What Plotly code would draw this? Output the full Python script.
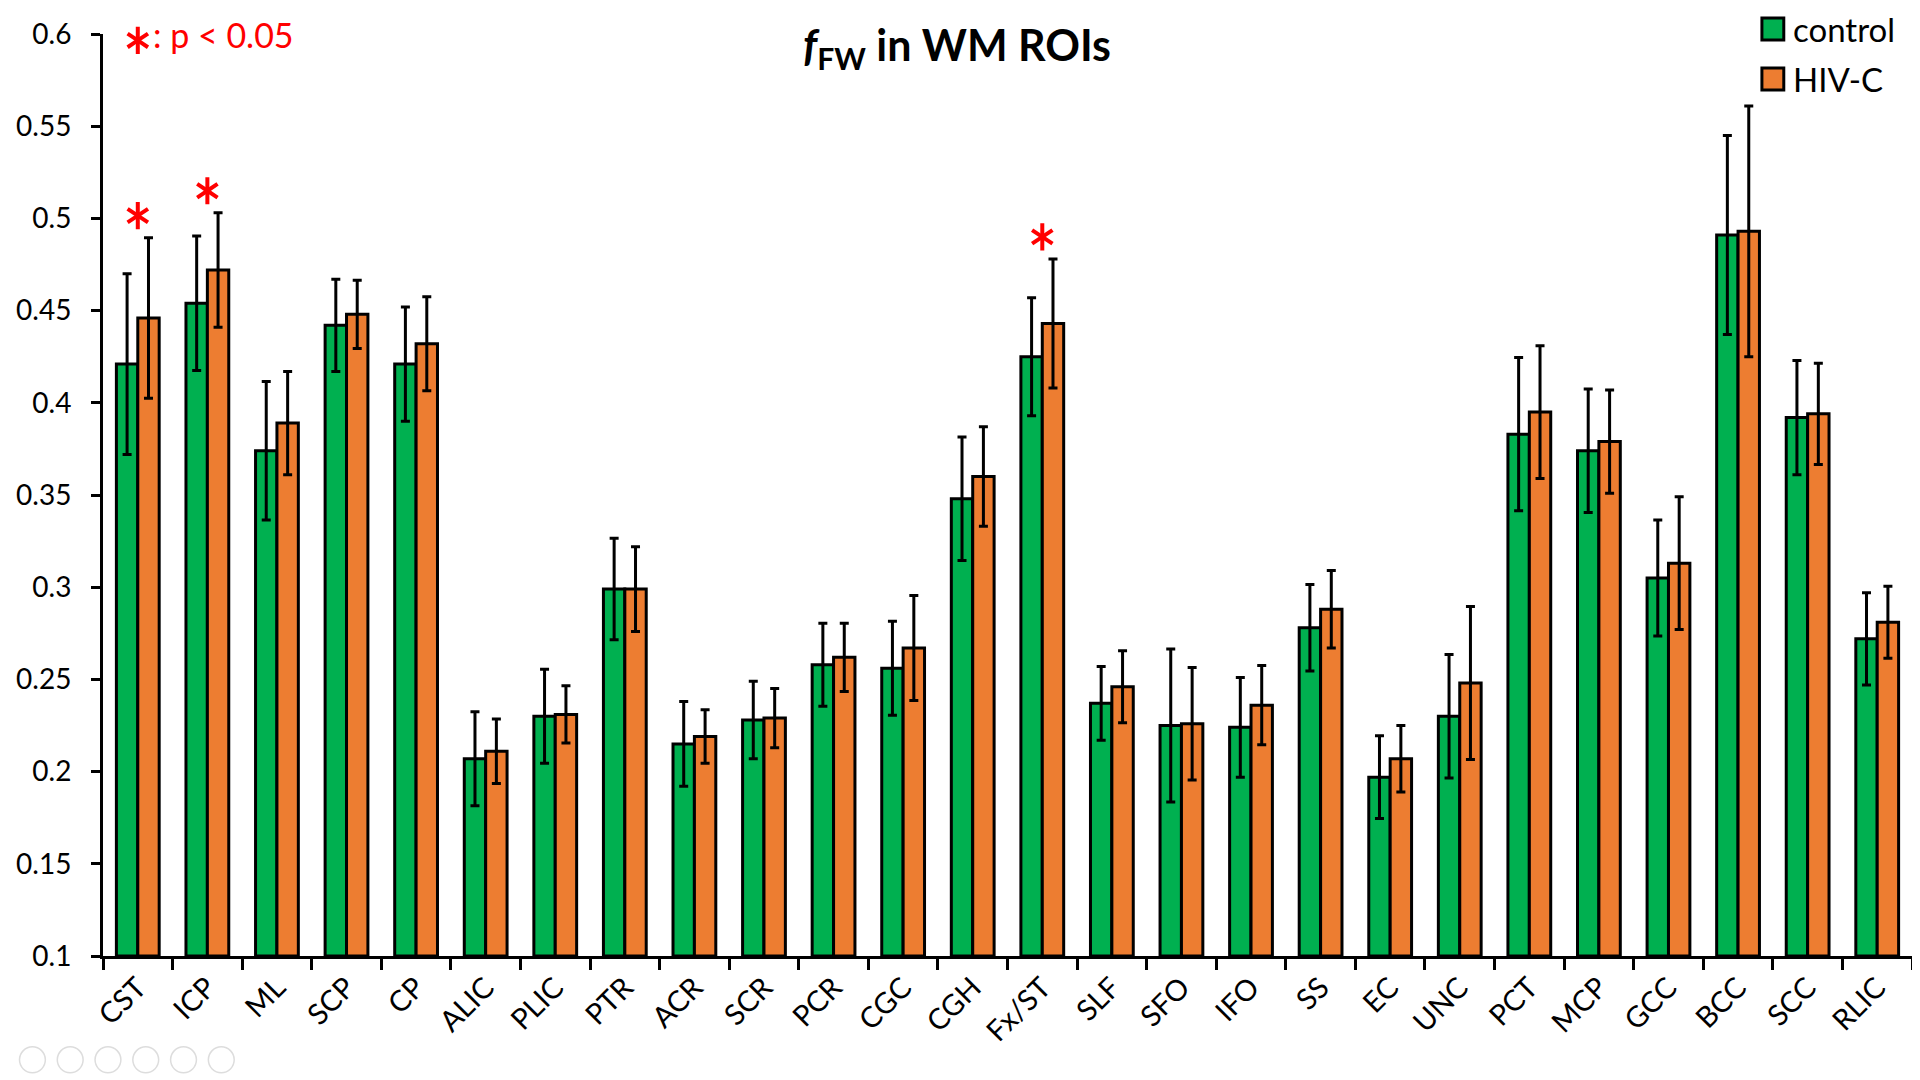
import plotly.graph_objects as go

# ---------------- data ----------------
categories = ["CST", "ICP", "ML", "SCP", "CP", "ALIC", "PLIC", "PTR", "ACR", "SCR",
              "PCR", "CGC", "CGH", "Fx/ST", "SLF", "SFO", "IFO", "SS", "EC", "UNC",
              "PCT", "MCP", "GCC", "BCC", "SCC", "RLIC"]

control_mean = [0.421, 0.454, 0.374, 0.442, 0.421, 0.207, 0.230, 0.299, 0.215, 0.228,
                0.258, 0.256, 0.348, 0.425, 0.237, 0.225, 0.224, 0.278, 0.197, 0.230,
                0.383, 0.374, 0.305, 0.491, 0.392, 0.272]
control_sd = [0.049, 0.0365, 0.0375, 0.025, 0.031, 0.0255, 0.0255, 0.0275, 0.023, 0.021,
              0.0225, 0.0255, 0.0335, 0.032, 0.020, 0.0415, 0.027, 0.0235, 0.0225, 0.0335,
              0.0415, 0.0335, 0.0315, 0.054, 0.031, 0.025]

hiv_mean = [0.446, 0.472, 0.389, 0.448, 0.432, 0.211, 0.231, 0.299, 0.219, 0.229,
            0.262, 0.267, 0.360, 0.443, 0.246, 0.226, 0.236, 0.288, 0.207, 0.248,
            0.395, 0.379, 0.313, 0.493, 0.394, 0.281]
hiv_sd = [0.0435, 0.031, 0.028, 0.0185, 0.0255, 0.0175, 0.0155, 0.023, 0.0145, 0.016,
          0.0185, 0.0285, 0.027, 0.035, 0.0195, 0.0305, 0.0215, 0.021, 0.018, 0.0415,
          0.036, 0.028, 0.036, 0.068, 0.0275, 0.0195]

significant = ["CST", "ICP", "Fx/ST"]

y_tick_vals = [0.1, 0.15, 0.2, 0.25, 0.3, 0.35, 0.4, 0.45, 0.5, 0.55, 0.6]
y_tick_text = ["0.1", "0.15", "0.2", "0.25", "0.3", "0.35", "0.4", "0.45", "0.5", "0.55", "0.6"]

series_names = ["control", "HIV-C"]
series_colors = ["#00B050", "#ED7D31"]

# ---------------- layout geometry ----------------
# the page body adds an 8 px margin, so the figure is sized to fit the window
OFF = 8
W, H = 1920 - OFF, 1080 - OFF
PLOT_L, PLOT_R, PLOT_T, PLOT_B = 92, 1912, 32, 956   # plot area on screen
ML_, MR_ = PLOT_L - OFF, W - (PLOT_R - OFF)
MT_, MB_ = PLOT_T - OFF, H - (PLOT_B - OFF)
FONT = "Lato"
Y_MIN, Y_MAX = 0.1, 0.6


def px_x(x):
    return (x - PLOT_L) / (PLOT_R - PLOT_L)


def px_y(y):
    return (PLOT_B - y) / (PLOT_B - PLOT_T)


fig = go.Figure()

for name, color, mean, sd in [(series_names[0], series_colors[0], control_mean, control_sd),
                              (series_names[1], series_colors[1], hiv_mean, hiv_sd)]:
    fig.add_trace(go.Bar(
        x=categories, y=[m - Y_MIN for m in mean], base=Y_MIN, name=name,
        marker=dict(color=color, line=dict(color="black", width=3)),
        error_y=dict(type="data", array=sd, symmetric=True, color="black",
                     thickness=3, width=4.5),
        showlegend=False,
        hovertemplate="%{x}: %{customdata}<extra>" + name + "</extra>",
        customdata=mean,
    ))

# significance stars (six-armed asterisks) above the significant ROIs
star_x, star_y = [], []
for c in significant:
    i = categories.index(c)
    top = max(control_mean[i] + control_sd[i], hiv_mean[i] + hiv_sd[i])
    star_x.append(c)
    star_y.append(top + 0.012)
# key star in the top-left corner
star_x.append(categories[0])
star_y.append(Y_MAX - 0.0035)

for sym in ["y-up-open", "y-down-open"]:
    fig.add_trace(go.Scatter(
        x=star_x, y=star_y, mode="markers", cliponaxis=False, showlegend=False,
        hoverinfo="skip",
        marker=dict(symbol=sym, size=17, color="red",
                    line=dict(color="red", width=4)),
    ))

annotations = [
    dict(text=": p &lt; 0.05", xref="paper", yref="paper", x=px_x(140), y=px_y(33),
         xanchor="left", yanchor="middle", showarrow=False,
         font=dict(family=FONT, size=34, color="red")),
]

# manual legend (large square keys)
shapes = []
legend_y = [27, 77]
for name, color, yc in zip(series_names, series_colors, legend_y):
    shapes.append(dict(type="rect", xref="paper", yref="paper",
                       x0=px_x(1761), x1=px_x(1783), y0=px_y(yc - 11), y1=px_y(yc + 11),
                       fillcolor=color, line=dict(color="black", width=3)))
    annotations.append(dict(text=name, xref="paper", yref="paper", x=px_x(1790), y=px_y(yc),
                            xanchor="left", yanchor="middle", showarrow=False,
                            font=dict(family=FONT, size=33, color="black")))

# faint slideshow control icons in the lower-left corner
for k in range(6):
    cx = 21 + 38 * k
    cy = 1060
    shapes.append(dict(type="circle", xref="paper", yref="paper",
                       x0=px_x(cx - 13), x1=px_x(cx + 13), y0=px_y(cy + 13), y1=px_y(cy - 13),
                       line=dict(color="#DDDDDD", width=1.5), fillcolor="rgba(0,0,0,0)"))

fig.update_layout(
    width=W, height=H,
    margin=dict(l=ML_, r=MR_, t=MT_, b=MB_),
    paper_bgcolor="white", plot_bgcolor="white",
    barmode="group", bargap=0.385, bargroupgap=0,
    font=dict(family=FONT, size=28, color="black"),
    title=dict(text="<b><i>f</i><sub>FW</sub> in WM ROIs</b>",
               x=(957 - OFF) / W, xanchor="center", y=1 - (46 - OFF) / H, yanchor="middle",
               yref="container", xref="container",
               font=dict(family=FONT, size=43, color="black")),
    annotations=annotations,
    shapes=shapes,
    showlegend=False,
)

fig.update_xaxes(
    type="category", categoryorder="array", categoryarray=categories,
    range=[-0.5, len(categories) - 0.5], autorange=False,
    showline=True, linecolor="black", linewidth=3,
    ticks="outside", tickson="boundaries", ticklen=11, tickwidth=3, tickcolor="black",
    tickangle=-45, tickfont=dict(family=FONT, size=29, color="black"),
    showgrid=False, zeroline=False,
)

fig.update_yaxes(
    range=[Y_MIN, Y_MAX], tickvals=y_tick_vals, ticktext=y_tick_text,
    showline=True, linecolor="black", linewidth=3,
    ticks="outside", ticklen=9, tickwidth=3, tickcolor="black",
    ticklabelstandoff=14,
    tickfont=dict(family=FONT, size=28, color="black"),
    showgrid=False, zeroline=False,
)

fig.write_html("out.html")
